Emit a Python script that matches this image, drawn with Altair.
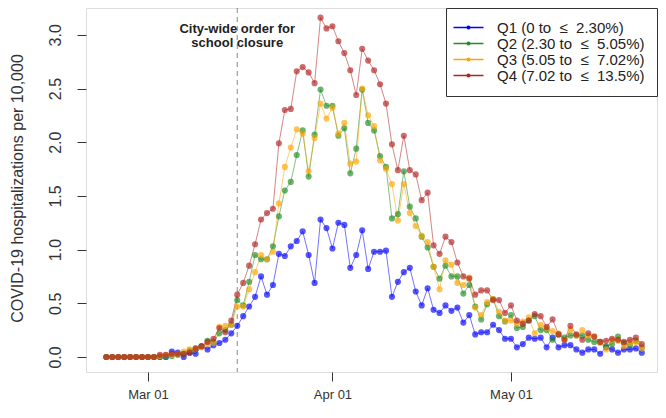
import altair as alt
import pandas as pd

# ---------------- data ----------------
start_date = "2020-02-23"
n_days = 91
dates = pd.date_range(start_date, periods=n_days, freq="D").strftime("%Y-%m-%d").tolist()

series_names = [
    "Q1 (0 to \u00a0\u2264 \u00a02.30%)",
    "Q2 (2.30 to \u00a0\u2264 \u00a05.05%)",
    "Q3 (5.05 to \u00a0\u2264 \u00a07.02%)",
    "Q4 (7.02 to \u00a0\u2264 \u00a013.5%)",
]
series_colors = ["#0000FF", "#228B22", "#FFA500", "#B22222"]

q1 = [0, 0, 0, 0, 0, 0, 0, 0, 0, 0, 0,
      0.05, 0.04, 0.00, 0.04, 0.03, 0.10, 0.07, 0.11, 0.13, 0.16,
      0.22, 0.29, 0.38, 0.47, 0.56, 0.75, 0.58, 0.67, 0.96, 0.94,
      1.03, 1.08, 1.17, 0.95, 0.69, 1.28, 1.20, 1.01, 1.25, 1.23,
      0.83, 0.95, 1.18, 0.82, 0.98, 0.98, 0.99, 0.56, 0.70, 0.79,
      0.83, 0.61, 0.48, 0.64, 0.44, 0.41, 0.48, 0.43, 0.46, 0.32,
      0.39, 0.21, 0.23, 0.23, 0.30, 0.25, 0.17, 0.17, 0.09, 0.12,
      0.18, 0.17, 0.18, 0.09, 0.18, 0.09, 0.11, 0.11, 0.07, 0.04,
      0.07, 0.07, 0.03, 0.09, 0.07, 0.04, 0.07, 0.07, 0.08, 0.04]
q2 = [0, 0, 0, 0, 0, 0, 0, 0, 0, 0, 0,
      0.01, 0.02, 0.03, 0.06, 0.07, 0.10, 0.15, 0.14, 0.22, 0.25,
      0.30, 0.53, 0.48, 0.70, 0.95, 0.91, 0.91, 1.03, 1.31, 1.55,
      1.63, 1.88, 2.11, 1.68, 2.07, 2.49, 2.34, 2.34, 2.06, 2.13,
      1.71, 1.94, 2.49, 2.18, 2.11, 1.87, 1.77, 1.29, 1.33, 1.73,
      1.40, 1.29, 1.12, 1.02, 0.84, 0.73, 0.85, 0.75, 0.75, 0.59,
      0.67, 0.47, 0.35, 0.49, 0.54, 0.38, 0.33, 0.39, 0.27, 0.28,
      0.34, 0.38, 0.25, 0.25, 0.16, 0.21, 0.18, 0.20, 0.20, 0.20,
      0.16, 0.14, 0.14, 0.10, 0.12, 0.19, 0.13, 0.11, 0.15, 0.09]
q3 = [0, 0, 0, 0, 0, 0, 0, 0, 0, 0.01, 0.02,
      0.02, 0.03, 0.05, 0.07, 0.08, 0.09, 0.12, 0.13, 0.28, 0.29,
      0.30, 0.47, 0.47, 0.63, 0.79, 0.95, 0.91, 0.98, 1.43, 1.77,
      1.95, 2.12, 2.08, 1.73, 2.04, 2.36, 2.22, 2.32, 2.08, 2.18,
      1.80, 1.82, 2.50, 2.25, 2.15, 1.83, 1.75, 1.61, 1.27, 1.61,
      1.34, 1.22, 1.13, 1.07, 0.84, 0.63, 0.90, 0.86, 0.69, 0.67,
      0.74, 0.46, 0.39, 0.51, 0.54, 0.42, 0.34, 0.34, 0.31, 0.33,
      0.37, 0.22, 0.30, 0.27, 0.24, 0.22, 0.16, 0.25, 0.20, 0.25,
      0.20, 0.19, 0.13, 0.07, 0.16, 0.15, 0.10, 0.13, 0.14, 0.08]
q4 = [0, 0, 0, 0, 0, 0, 0, 0, 0, 0.02, 0.02,
      0.03, 0.03, 0.03, 0.04, 0.08, 0.10, 0.14, 0.17, 0.27, 0.23,
      0.34, 0.58, 0.69, 0.85, 1.05, 1.28, 1.34, 1.38, 1.99, 2.30,
      2.31, 2.66, 2.70, 2.65, 2.55, 3.16, 3.06, 3.08, 2.94, 2.83,
      2.67, 2.44, 2.87, 2.76, 2.67, 2.54, 2.36, 1.98, 1.74, 2.06,
      1.74, 1.70, 1.46, 1.53, 1.04, 0.96, 1.12, 1.07, 0.88, 0.75,
      0.73, 0.58, 0.62, 0.62, 0.53, 0.53, 0.41, 0.48, 0.34, 0.31,
      0.34, 0.40, 0.38, 0.28, 0.35, 0.21, 0.16, 0.29, 0.21, 0.16,
      0.22, 0.19, 0.14, 0.15, 0.17, 0.16, 0.14, 0.16, 0.18, 0.12]

y_ticks = [0.0, 0.5, 1.0, 1.5, 2.0, 2.5, 3.0]
closure_date = "2020-03-16"
closure_text = "City-wide order for\nschool closure"
closure_text_y = 3.05

# ---------------- build table ----------------
rows = []
for name, vals in zip(series_names, [q1, q2, q3, q4]):
    for d, v in zip(dates, vals):
        rows.append({"date": d, "value": v, "series": name})
df = pd.DataFrame(rows)

FONT = "Liberation Sans, Arial, Helvetica, sans-serif"
day_ms = 86400000
mar1 = pd.Timestamp("2020-03-01", tz="UTC").value // 10**6
x_domain = [mar1 - 10.42 * day_ms, mar1 + 85.55 * day_ms]

x_enc = alt.X(
    "date:T",
    scale=alt.Scale(type="utc", domain=x_domain, nice=False),
    axis=alt.Axis(
        values=[alt.DateTime(year=2020, month=m, date=1, utc=True) for m in (3, 4, 5)],
        labelExpr="utcFormat(datum.value, '%b %d')", title=None, grid=False,
        domain=False, tickSize=9, tickColor="#333", labelFontSize=13,
        labelFont=FONT, labelColor="#333", labelPadding=7,
    ),
)
y_enc = alt.Y(
    "value:Q",
    scale=alt.Scale(domain=[-0.14, 3.25], nice=False, zero=False),
    axis=alt.Axis(
        values=y_ticks, format=".1f", grid=False, domain=False,
        tickSize=9, tickColor="#333", labelAngle=270, labelAlign="center",
        labelBaseline="middle", labelFontSize=16, labelFont=FONT,
        labelColor="#333", labelPadding=22,
        title="COVID-19 hospitalizations per 10,000", titleFont=FONT,
        titleFontSize=16, titleFontWeight="normal", titleColor="#333",
        titleAngle=270, titleX=-69, titleY=180, titleAlign="center",
        titleBaseline="middle",
    ),
)
color_enc = alt.Color(
    "series:N",
    scale=alt.Scale(domain=series_names, range=series_colors),
    legend=alt.Legend(
        title=None, orient="top-right", offset=0, padding=12,
        labelFontSize=15, labelFont=FONT, labelColor="#222",
        strokeColor="#333", fillColor="white",
        symbolType="M-2.4,0L3.6,0M0.35,0A0.25,0.25 0 1,0 0.85,0A0.25,0.25 0 1,0 0.35,0",
        symbolSize=100, symbolStrokeWidth=1.6, symbolOpacity=1,
        rowPadding=0, labelOffset=24,
    ),
)

base = alt.Chart(df)
lines = base.mark_line(strokeWidth=1, opacity=0.55).encode(
    x=x_enc, y=y_enc, color=color_enc
)
points = base.mark_circle(size=38, opacity=0.66).encode(
    x=x_enc, y=y_enc, color=color_enc
)

rule = alt.Chart(pd.DataFrame({"date": [closure_date]})).mark_rule(
    color="#888", strokeDash=[5, 4], strokeWidth=1
).encode(x="date:T")

note = alt.Chart(pd.DataFrame({"date": [closure_date], "value": [closure_text_y],
                               "text": [closure_text]})).mark_text(
    lineBreak="\n", font=FONT, fontSize=13, fontWeight="bold", color="#222",
    align="center", baseline="middle", lineHeight=14,
).encode(x="date:T", y="value:Q", text="text:N")

chart = alt.layer(rule, lines, points, note).properties(
    width=571, height=364,
    padding={"left": 78, "top": 0, "right": 1, "bottom": 34},
    autosize=alt.AutoSizeParams(type="none"),
).configure_view(stroke="#333", strokeWidth=1).configure(background="white")

chart.save("out.html", embed_options={"renderer": "svg", "actions": False})
